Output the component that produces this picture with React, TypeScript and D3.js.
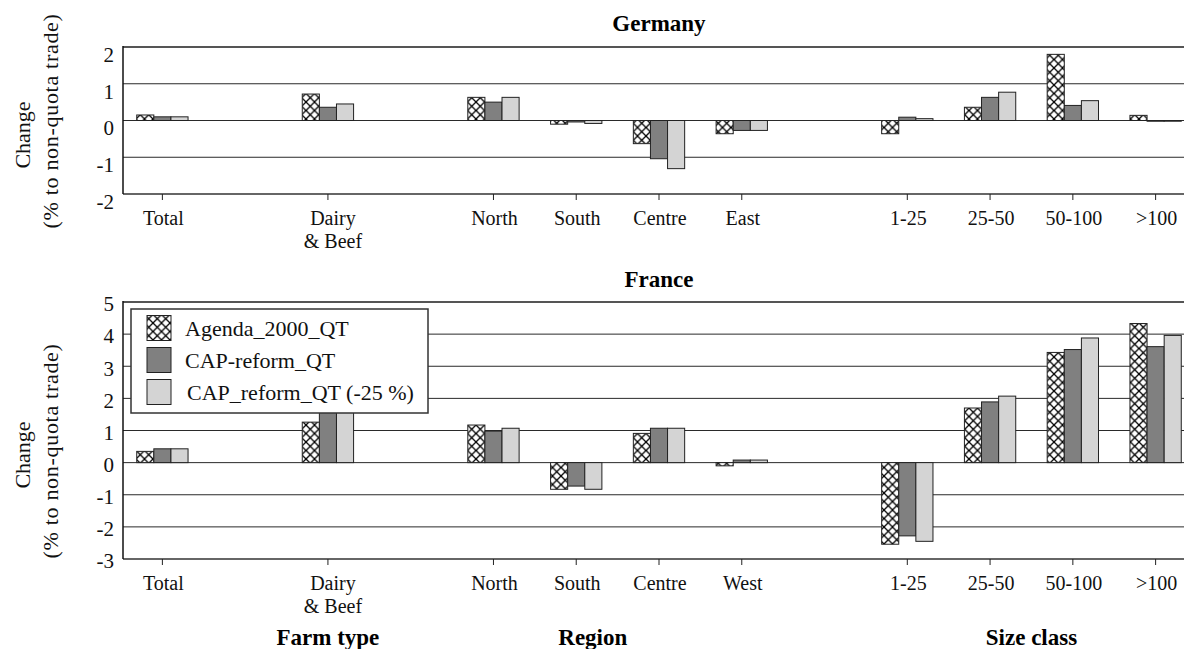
import React, { useEffect, useRef } from "react";
import * as d3 from "d3";

// scenarios (legend order)
const series = ["Agenda_2000_QT", "CAP-reform_QT", "CAP_reform_QT (-25 %)"];
const seriesFill = ["url(#hatch)", "#808080", "#d4d4d4"];

// category groups along the x axis
const farmTypes = ["Total", "Dairy\n& Beef"];
const germanRegions = ["North", "South", "Centre", "East"];
const frenchRegions = ["North", "South", "Centre", "West"];
const sizeClasses = ["1-25", "25-50", "50-100", ">100"];
const groupTitles = ["Farm type", "Region", "Size class"];

// Germany, % change to non-quota trade
const deAgenda = [0.15, 0.72, 0.63, -0.1, -0.63, -0.36, -0.36, 0.36, 1.8, 0.14];
const deCap = [0.1, 0.36, 0.5, -0.04, -1.04, -0.27, 0.09, 0.63, 0.41, -0.02];
const deCap25 = [0.1, 0.45, 0.63, -0.08, -1.31, -0.27, 0.05, 0.77, 0.54, -0.02];

// France, % change to non-quota trade
const frAgenda = [0.35, 1.26, 1.17, -0.83, 0.91, -0.1, -2.54, 1.7, 3.43, 4.33];
const frCap = [0.43, 2.0, 0.98, -0.73, 1.07, 0.08, -2.28, 1.89, 3.52, 3.61];
const frCap25 = [0.43, 2.1, 1.07, -0.83, 1.07, 0.08, -2.45, 2.07, 3.88, 3.96];

const deTicks = [-2, -1, 0, 1, 2];
const frTicks = [-3, -2, -1, 0, 1, 2, 3, 4, 5];

const FONT = "Liberation Serif";

function App() {
  const ref = useRef<SVGSVGElement>(null);

  useEffect(() => {
    const svg = d3.select(ref.current);
    svg.selectAll("*").remove();

    // hatch pattern
    const defs = svg.append("defs");
    const pat = defs.append("pattern")
      .attr("id", "hatch")
      .attr("patternUnits", "userSpaceOnUse")
      .attr("width", 8.5)
      .attr("height", 8.5);
    pat.append("rect").attr("width", 8.5).attr("height", 8.5).attr("fill", "#fff");
    pat.append("path")
      .attr("d", "M0,0L8.5,8.5M8.5,0L0,8.5")
      .attr("stroke", "#000")
      .attr("stroke-width", 1.3);

    const left = 123;

    function slotsFor(groups: string[][]) {
      const s: string[] = [];
      groups.forEach((g, i) => {
        if (i > 0) s.push("_gap" + i);
        g.forEach(c => s.push(c));
      });
      return s;
    }

    function drawPanel(cfg: {
      title: string; titleY: number;
      groups: string[][]; values: number[][]; ticks: number[];
      top: number; bottom: number; tickDy: number;
      labelY: number; yTitle: [number, number]; legend: boolean; groupLabels: boolean;
    }) {
      const cats = cfg.groups.flat();
      const x = d3.scaleBand<string>().domain(slotsFor(cfg.groups)).range([121, 1197]);
      const bw = x.bandwidth();
      const inner = d3.scaleBand<number>().domain([0, 1, 2]).range([-bw * 0.31, bw * 0.31]);
      const y = d3.scaleLinear()
        .domain([d3.min(cfg.ticks)!, d3.max(cfg.ticks)!])
        .range([cfg.bottom, cfg.top]);
      const cx = (c: string) => x(c)! + bw / 2;
      const g = svg.append("g").style("font-family", FONT);

      // grid lines
      g.selectAll(".grid")
        .data(cfg.ticks.slice(1, -1))
        .enter().append("line")
        .attr("x1", left).attr("x2", 1184)
        .attr("y1", d => y(d)).attr("y2", d => y(d))
        .attr("stroke", "#2a2a2a").attr("stroke-width", 1);

      // bars
      cfg.values.forEach((vals, si) => {
        g.selectAll(".bar" + si)
          .data(vals)
          .enter().append("rect")
          .attr("x", (d, i) => cx(cats[i]) + inner(si)!)
          .attr("width", inner.bandwidth())
          .attr("y", d => Math.min(y(d), y(0)))
          .attr("height", d => Math.abs(y(d) - y(0)))
          .attr("fill", seriesFill[si])
          .attr("stroke", "#222")
          .attr("stroke-width", 1);
      });

      // frame
      g.append("line")
        .attr("x1", left).attr("x2", 1184)
        .attr("y1", cfg.top).attr("y2", cfg.top)
        .attr("stroke", "#555").attr("stroke-width", 2);
      g.append("line")
        .attr("x1", left).attr("x2", 1184)
        .attr("y1", cfg.bottom).attr("y2", cfg.bottom)
        .attr("stroke", "#333").attr("stroke-width", 1.5);
      g.append("line")
        .attr("x1", left).attr("x2", left)
        .attr("y1", cfg.top - 1).attr("y2", cfg.bottom)
        .attr("stroke", "#111").attr("stroke-width", 1.5);

      // x ticks and labels
      g.selectAll(".xt")
        .data(cats)
        .enter().append("line")
        .attr("x1", d => cx(d)).attr("x2", d => cx(d))
        .attr("y1", cfg.bottom).attr("y2", cfg.bottom + 6)
        .attr("stroke", "#222").attr("stroke-width", 1);

      const lab = g.selectAll(".xl")
        .data(cats)
        .enter().append("text")
        .attr("text-anchor", "middle")
        .attr("font-size", 20)
        .attr("fill", "#111");
      lab.each(function (d) {
        const parts = d.split("\n");
        parts.forEach((p, k) => {
          d3.select(this).append("tspan")
            .attr("x", cx(d) + (parts.length > 1 ? 5 : 1))
            .attr("y", cfg.labelY + k * 23)
            .text(p);
        });
      });

      // y tick labels
      g.selectAll(".yl")
        .data(cfg.ticks)
        .enter().append("text")
        .attr("x", 114)
        .attr("y", d => y(d) + cfg.tickDy)
        .attr("dy", "0.35em")
        .attr("text-anchor", "end")
        .attr("font-size", 21)
        .attr("fill", "#111")
        .text(d => d);

      // y title
      const yt = g.append("g").attr("font-size", 22).attr("fill", "#111");
      yt.append("text")
        .attr("transform", `translate(30,${cfg.yTitle[0]}) rotate(-90)`)
        .attr("text-anchor", "middle")
        .text("Change");
      yt.append("text")
        .attr("transform", `translate(58,${cfg.yTitle[1]}) rotate(-90)`)
        .attr("text-anchor", "middle")
        .attr("letter-spacing", 0.7)
        .text("(% to non-quota trade)");

      // title
      g.append("text")
        .attr("x", (121 + 1197) / 2)
        .attr("y", cfg.titleY)
        .attr("text-anchor", "middle")
        .attr("font-weight", "bold")
        .attr("font-size", 23)
        .text(cfg.title);

      if (cfg.groupLabels) {
        const gx = [
          cx(cfg.groups[1][0]),
          cx(cfg.groups[2][1]) + bw * 0.2,
          (cx(cfg.groups[3][1]) + cx(cfg.groups[3][2])) / 2,
        ];
        g.selectAll(".gl")
          .data(groupTitles)
          .enter().append("text")
          .attr("x", (d, i) => gx[i])
          .attr("y", 645)
          .attr("text-anchor", "middle")
          .attr("font-weight", "bold")
          .attr("font-size", 23)
          .text(d => d);
      }

      if (cfg.legend) {
        const lg = g.append("g");
        lg.append("rect")
          .attr("x", 131).attr("y", 309)
          .attr("width", 297).attr("height", 104)
          .attr("fill", "#fff")
          .attr("stroke", "#333").attr("stroke-width", 1.5);
        series.forEach((s, i) => {
          const cy = 328 + i * 32;
          lg.append("rect")
            .attr("x", 147).attr("y", cy - 12.5)
            .attr("width", 24).attr("height", 25)
            .attr("fill", seriesFill[i])
            .attr("stroke", "#222").attr("stroke-width", 1);
          lg.append("text")
            .attr("x", i === 2 ? 187 : 185)
            .attr("y", cy)
            .attr("dy", "0.35em")
            .attr("font-size", 22)
            .attr("fill", "#111")
            .text(s);
        });
      }
    }

    drawPanel({
      title: "Germany", titleY: 31,
      groups: [[farmTypes[0]], [farmTypes[1]], germanRegions, sizeClasses],
      values: [deAgenda, deCap, deCap25],
      ticks: deTicks, top: 47, bottom: 194, tickDy: 7.5,
      labelY: 225, yTitle: [135, 121], legend: false, groupLabels: false,
    });

    drawPanel({
      title: "France", titleY: 287,
      groups: [[farmTypes[0]], [farmTypes[1]], frenchRegions, sizeClasses],
      values: [frAgenda, frCap, frCap25],
      ticks: frTicks, top: 302, bottom: 559, tickDy: 2,
      labelY: 590, yTitle: [455, 451], legend: true, groupLabels: true,
    });
  }, []);

  return (
    <svg
      ref={ref}
      width={1184}
      height={649}
      style={{ position: "absolute", left: 0, top: 0, background: "#fff" }}
    />
  );
}

export default App;
